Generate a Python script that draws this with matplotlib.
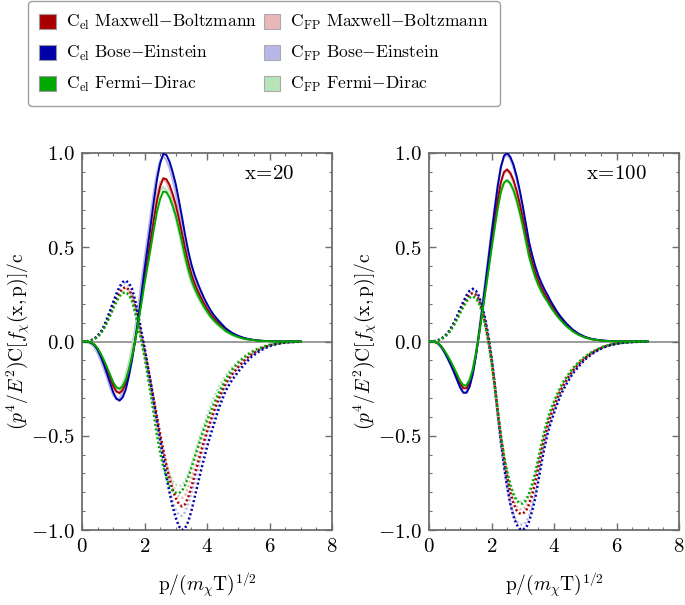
import numpy as np
import matplotlib
matplotlib.use('Agg')
import matplotlib.pyplot as plt
from matplotlib.patches import Patch
from matplotlib.ticker import MultipleLocator, FuncFormatter

plt.rcParams['mathtext.fontset'] = 'cm'
plt.rcParams['font.family'] = 'serif'
plt.rcParams['font.serif'] = ['DejaVu Serif']

p = [0.0, 0.1, 0.2, 0.3, 0.4, 0.5, 0.6, 0.7, 0.8, 0.9,
     1.0, 1.1, 1.2, 1.3, 1.4, 1.5, 1.6, 1.7, 1.8, 1.9,
     2.0, 2.1, 2.2, 2.3, 2.4, 2.5, 2.6, 2.7, 2.8, 2.9,
     3.0, 3.1, 3.2, 3.3, 3.4, 3.5, 3.6, 3.7, 3.8, 3.9,
     4.0, 4.1, 4.2, 4.3, 4.4,
     4.6, 4.8, 5.0, 5.2, 5.4, 5.6, 5.8, 6.0, 6.2, 6.4, 6.6, 6.8, 7.0]

# ---------------- x = 20 ----------------
# C_el, solid
el20_mb = [0, -0.0004, -0.002, -0.007, -0.017, -0.039, -0.07, -0.106, -0.148, -0.191,
           -0.235, -0.264, -0.274, -0.258, -0.222, -0.161, -0.087, 0.004, 0.104, 0.218,
           0.33, 0.435, 0.54, 0.648, 0.748, 0.822, 0.866, 0.861, 0.831, 0.783,
           0.726, 0.653, 0.574, 0.492, 0.418, 0.357, 0.309, 0.27, 0.235, 0.203,
           0.174, 0.148, 0.126, 0.108, 0.091,
           0.061, 0.04, 0.026, 0.016, 0.01, 0.005, 0.003, 0.002, 0.001, 0, 0, 0, 0]
el20_be = [0, -0.0005, -0.002, -0.008, -0.02, -0.045, -0.08, -0.122, -0.17, -0.22,
           -0.27, -0.303, -0.314, -0.297, -0.255, -0.185, -0.10, 0.005, 0.12, 0.25,
           0.38, 0.50, 0.62, 0.745, 0.86, 0.945, 0.995, 0.99, 0.955, 0.90,
           0.835, 0.75, 0.66, 0.565, 0.48, 0.41, 0.355, 0.31, 0.27, 0.233,
           0.20, 0.17, 0.145, 0.124, 0.105,
           0.07, 0.046, 0.03, 0.018, 0.011, 0.006, 0.003, 0.002, 0.001, 0, 0, 0, 0]
el20_fd = [0, -0.0004, -0.002, -0.006, -0.016, -0.036, -0.064, -0.098, -0.136, -0.176,
           -0.216, -0.242, -0.251, -0.238, -0.204, -0.148, -0.08, 0.004, 0.096, 0.20,
           0.304, 0.40, 0.496, 0.596, 0.688, 0.756, 0.796, 0.792, 0.764, 0.72,
           0.668, 0.60, 0.528, 0.452, 0.384, 0.328, 0.284, 0.248, 0.216, 0.186,
           0.16, 0.136, 0.116, 0.099, 0.084,
           0.056, 0.037, 0.024, 0.014, 0.009, 0.005, 0.002, 0.002, 0.001, 0, 0, 0, 0]
# C_el, dotted
el20_mb_d = [0, 0.0005, 0.002, 0.006, 0.014, 0.027, 0.046, 0.073, 0.108, 0.147,
             0.19, 0.228, 0.26, 0.282, 0.288, 0.275, 0.245, 0.188, 0.11, 0.03,
             -0.045, -0.13, -0.22, -0.31, -0.40, -0.49, -0.575, -0.655, -0.725, -0.785,
             -0.83, -0.862, -0.875, -0.863, -0.825, -0.773, -0.712, -0.65, -0.59, -0.533,
             -0.478, -0.428, -0.38, -0.335, -0.294,
             -0.222, -0.175, -0.135, -0.1, -0.072, -0.05, -0.033, -0.021, -0.013, -0.007, -0.003, -0.002, -0.001]
el20_be_d = [0, 0.0005, 0.002, 0.007, 0.015, 0.03, 0.05, 0.08, 0.12, 0.163,
             0.21, 0.253, 0.29, 0.315, 0.323, 0.31, 0.28, 0.22, 0.14, 0.055,
             -0.03, -0.125, -0.22, -0.32, -0.42, -0.52, -0.62, -0.715, -0.80, -0.875,
             -0.935, -0.98, -1.0, -0.99, -0.955, -0.9, -0.83, -0.76, -0.69, -0.625,
             -0.56, -0.503, -0.45, -0.395, -0.345,
             -0.26, -0.205, -0.16, -0.12, -0.085, -0.06, -0.04, -0.025, -0.015, -0.008, -0.004, -0.002, -0.001]
el20_fd_d = [0, 0.0005, 0.002, 0.006, 0.013, 0.025, 0.043, 0.068, 0.1, 0.136,
             0.175, 0.21, 0.24, 0.257, 0.262, 0.248, 0.215, 0.155, 0.08, 0.0,
             -0.08, -0.18, -0.28, -0.39, -0.50, -0.59, -0.665, -0.72, -0.762, -0.79,
             -0.803, -0.805, -0.792, -0.762, -0.72, -0.67, -0.617, -0.565, -0.513, -0.465,
             -0.42, -0.378, -0.338, -0.3, -0.265,
             -0.2, -0.15, -0.112, -0.082, -0.059, -0.041, -0.028, -0.018, -0.011, -0.006, -0.003, -0.001, 0]
# C_FP, solid
fp20_mb = [0, -0.001, -0.004, -0.012, -0.028, -0.054, -0.088, -0.127, -0.17, -0.213,
           -0.25, -0.27, -0.267, -0.24, -0.192, -0.124, -0.042, 0.054, 0.16, 0.274,
           0.382, 0.487, 0.594, 0.698, 0.785, 0.845, 0.862, 0.845, 0.806, 0.753,
           0.688, 0.612, 0.532, 0.454, 0.387, 0.332, 0.289, 0.252, 0.219, 0.188,
           0.161, 0.137, 0.117, 0.099, 0.084,
           0.055, 0.036, 0.023, 0.014, 0.008, 0.004, 0.002, 0.001, 0.001, 0, 0, 0, 0]
fp20_be = [0, -0.001, -0.005, -0.014, -0.032, -0.062, -0.1, -0.145, -0.193, -0.243,
           -0.285, -0.306, -0.303, -0.273, -0.218, -0.141, -0.047, 0.062, 0.183, 0.312,
           0.435, 0.554, 0.676, 0.793, 0.893, 0.96, 0.983, 0.962, 0.92, 0.86,
           0.785, 0.698, 0.606, 0.517, 0.44, 0.378, 0.33, 0.287, 0.249, 0.214,
           0.183, 0.156, 0.133, 0.113, 0.096,
           0.063, 0.041, 0.026, 0.016, 0.009, 0.005, 0.003, 0.001, 0.001, 0, 0, 0, 0]
fp20_fd = [0, -0.001, -0.004, -0.011, -0.026, -0.05, -0.082, -0.118, -0.158, -0.198,
           -0.233, -0.252, -0.249, -0.224, -0.18, -0.116, -0.038, 0.052, 0.152, 0.26,
           0.362, 0.462, 0.563, 0.662, 0.746, 0.803, 0.82, 0.803, 0.766, 0.715,
           0.653, 0.58, 0.503, 0.428, 0.364, 0.312, 0.272, 0.237, 0.206, 0.177,
           0.152, 0.129, 0.11, 0.093, 0.079,
           0.052, 0.034, 0.022, 0.013, 0.008, 0.004, 0.002, 0.001, 0.001, 0, 0, 0, 0]
# C_FP, dotted
fp20_mb_d = [0, 0.0005, 0.002, 0.006, 0.014, 0.027, 0.047, 0.074, 0.11, 0.148,
             0.19, 0.225, 0.255, 0.275, 0.28, 0.265, 0.235, 0.175, 0.10, 0.02,
             -0.06, -0.15, -0.24, -0.33, -0.42, -0.505, -0.58, -0.65, -0.71, -0.76,
             -0.80, -0.823, -0.83, -0.815, -0.77, -0.722, -0.67, -0.612, -0.555, -0.502,
             -0.45, -0.402, -0.355, -0.313, -0.275,
             -0.21, -0.16, -0.122, -0.09, -0.065, -0.046, -0.031, -0.02, -0.012, -0.007, -0.003, -0.002, -0.001]
fp20_be_d = [0, 0.0005, 0.002, 0.007, 0.016, 0.031, 0.052, 0.082, 0.122, 0.165,
             0.21, 0.25, 0.285, 0.305, 0.31, 0.295, 0.26, 0.197, 0.12, 0.035,
             -0.05, -0.15, -0.25, -0.35, -0.45, -0.545, -0.635, -0.72, -0.79, -0.85,
             -0.895, -0.92, -0.925, -0.905, -0.86, -0.81, -0.75, -0.685, -0.62, -0.56,
             -0.50, -0.45, -0.40, -0.355, -0.31,
             -0.235, -0.18, -0.14, -0.105, -0.075, -0.052, -0.035, -0.022, -0.013, -0.007, -0.004, -0.002, -0.001]
fp20_fd_d = [0, 0.0005, 0.002, 0.006, 0.013, 0.025, 0.044, 0.07, 0.102, 0.138,
             0.178, 0.212, 0.24, 0.255, 0.258, 0.243, 0.21, 0.148, 0.075, -0.005,
             -0.08, -0.175, -0.27, -0.365, -0.46, -0.535, -0.6, -0.655, -0.705, -0.74,
             -0.76, -0.766, -0.765, -0.74, -0.70, -0.655, -0.60, -0.545, -0.49, -0.44,
             -0.39, -0.347, -0.305, -0.268, -0.235,
             -0.18, -0.137, -0.103, -0.076, -0.055, -0.038, -0.026, -0.016, -0.01, -0.005, -0.003, -0.001, 0]

# ---------------- x = 100 ----------------
el100_mb = [0, -0.0005, -0.003, -0.011, -0.027, -0.053, -0.082, -0.114, -0.149, -0.187,
            -0.224, -0.248, -0.248, -0.219, -0.16, -0.073, 0.037, 0.155, 0.274, 0.397,
            0.52, 0.639, 0.753, 0.845, 0.899, 0.913, 0.895, 0.858, 0.803, 0.735,
            0.657, 0.571, 0.484, 0.42, 0.365, 0.32, 0.283, 0.251, 0.224, 0.194,
            0.169, 0.144, 0.123, 0.104, 0.087,
            0.058, 0.037, 0.022, 0.013, 0.007, 0.004, 0.002, 0.001, 0, 0, 0, 0, 0]
el100_be = [0, -0.0005, -0.003, -0.012, -0.03, -0.058, -0.09, -0.125, -0.163, -0.205,
            -0.245, -0.272, -0.272, -0.24, -0.175, -0.08, 0.04, 0.17, 0.30, 0.435,
            0.57, 0.70, 0.825, 0.925, 0.985, 1.0, 0.98, 0.94, 0.88, 0.805,
            0.72, 0.625, 0.53, 0.46, 0.40, 0.35, 0.31, 0.275, 0.245, 0.213,
            0.185, 0.158, 0.135, 0.114, 0.095,
            0.063, 0.04, 0.024, 0.014, 0.008, 0.004, 0.002, 0.001, 0, 0, 0, 0, 0]
el100_fd = [0, -0.0004, -0.003, -0.01, -0.026, -0.05, -0.077, -0.107, -0.14, -0.175,
            -0.21, -0.233, -0.233, -0.205, -0.15, -0.068, 0.034, 0.146, 0.257, 0.372,
            0.488, 0.599, 0.706, 0.792, 0.843, 0.856, 0.839, 0.805, 0.753, 0.689,
            0.616, 0.535, 0.454, 0.394, 0.342, 0.3, 0.265, 0.235, 0.21, 0.182,
            0.158, 0.135, 0.116, 0.098, 0.081,
            0.054, 0.034, 0.021, 0.012, 0.007, 0.003, 0.002, 0.001, 0, 0, 0, 0, 0]
el100_mb_d = [0, 0.0005, 0.002, 0.006, 0.014, 0.026, 0.042, 0.065, 0.093, 0.126,
              0.162, 0.196, 0.227, 0.25, 0.258, 0.248, 0.22, 0.17, 0.10, 0.01,
              -0.095, -0.225, -0.37, -0.505, -0.62, -0.72, -0.80, -0.857, -0.895, -0.912,
              -0.913, -0.9, -0.865, -0.815, -0.747, -0.668, -0.585, -0.508, -0.443, -0.39,
              -0.345, -0.303, -0.265, -0.233, -0.205,
              -0.155, -0.118, -0.087, -0.062, -0.043, -0.028, -0.018, -0.011, -0.006, -0.003, -0.002, -0.001, 0]
el100_be_d = [0, 0.0005, 0.002, 0.007, 0.015, 0.028, 0.045, 0.07, 0.10, 0.135,
              0.175, 0.212, 0.245, 0.27, 0.28, 0.27, 0.24, 0.19, 0.12, 0.03,
              -0.08, -0.22, -0.38, -0.53, -0.66, -0.77, -0.86, -0.925, -0.97, -0.993,
              -1.0, -0.99, -0.955, -0.9, -0.83, -0.74, -0.645, -0.56, -0.485, -0.43,
              -0.38, -0.333, -0.29, -0.255, -0.225,
              -0.17, -0.13, -0.095, -0.068, -0.047, -0.031, -0.02, -0.012, -0.007, -0.004, -0.002, -0.001, 0]
el100_fd_d = [0, 0.0005, 0.002, 0.006, 0.013, 0.025, 0.04, 0.061, 0.088, 0.119,
              0.153, 0.185, 0.213, 0.233, 0.24, 0.23, 0.205, 0.155, 0.085, 0.0,
              -0.105, -0.235, -0.37, -0.497, -0.605, -0.69, -0.76, -0.81, -0.843, -0.858,
              -0.86, -0.845, -0.81, -0.76, -0.698, -0.623, -0.545, -0.473, -0.413, -0.363,
              -0.32, -0.282, -0.245, -0.215, -0.19,
              -0.143, -0.108, -0.08, -0.057, -0.04, -0.026, -0.017, -0.01, -0.006, -0.003, -0.001, 0, 0]
fp100_mb = [0, -0.0005, -0.003, -0.012, -0.028, -0.054, -0.084, -0.116, -0.151, -0.189,
            -0.225, -0.247, -0.245, -0.212, -0.15, -0.06, 0.052, 0.168, 0.289, 0.41,
            0.533, 0.65, 0.758, 0.845, 0.893, 0.905, 0.885, 0.846, 0.79, 0.72,
            0.642, 0.557, 0.473, 0.41, 0.357, 0.313, 0.277, 0.246, 0.219, 0.19,
            0.165, 0.141, 0.12, 0.101, 0.085,
            0.056, 0.036, 0.021, 0.012, 0.007, 0.004, 0.002, 0.001, 0, 0, 0, 0, 0]
fp100_be = [0, -0.0005, -0.003, -0.013, -0.036, -0.061, -0.092, -0.127, -0.165, -0.206,
            -0.245, -0.27, -0.268, -0.232, -0.163, -0.065, 0.057, 0.187, 0.318, 0.45,
            0.583, 0.71, 0.83, 0.925, 0.978, 0.99, 0.968, 0.925, 0.865, 0.79,
            0.704, 0.61, 0.518, 0.45, 0.392, 0.343, 0.303, 0.269, 0.239, 0.208,
            0.18, 0.154, 0.131, 0.111, 0.092,
            0.061, 0.039, 0.023, 0.013, 0.007, 0.004, 0.002, 0.001, 0, 0, 0, 0, 0]
fp100_fd = [0, -0.0004, -0.003, -0.011, -0.027, -0.051, -0.078, -0.109, -0.142, -0.177,
            -0.211, -0.232, -0.23, -0.198, -0.14, -0.055, 0.049, 0.159, 0.27, 0.385,
            0.5, 0.61, 0.714, 0.796, 0.842, 0.852, 0.833, 0.797, 0.744, 0.679,
            0.606, 0.526, 0.447, 0.388, 0.337, 0.296, 0.261, 0.232, 0.207, 0.179,
            0.155, 0.133, 0.114, 0.096, 0.08,
            0.053, 0.033, 0.02, 0.012, 0.007, 0.003, 0.002, 0.001, 0, 0, 0, 0, 0]
fp100_mb_d = [0, 0.0005, 0.002, 0.006, 0.014, 0.026, 0.042, 0.065, 0.092, 0.125,
              0.16, 0.194, 0.225, 0.247, 0.255, 0.244, 0.215, 0.163, 0.095, 0.0,
              -0.105, -0.24, -0.375, -0.505, -0.615, -0.71, -0.785, -0.84, -0.875, -0.889,
              -0.89, -0.877, -0.845, -0.795, -0.725, -0.645, -0.565, -0.49, -0.43, -0.378,
              -0.333, -0.292, -0.255, -0.224, -0.197,
              -0.15, -0.113, -0.083, -0.06, -0.041, -0.027, -0.017, -0.01, -0.006, -0.003, -0.001, 0, 0]
fp100_be_d = [0, 0.0005, 0.002, 0.007, 0.015, 0.028, 0.045, 0.07, 0.1, 0.134,
              0.173, 0.21, 0.242, 0.266, 0.275, 0.263, 0.235, 0.18, 0.105, 0.01,
              -0.095, -0.24, -0.40, -0.545, -0.67, -0.77, -0.855, -0.915, -0.955, -0.97,
              -0.972, -0.96, -0.925, -0.868, -0.79, -0.705, -0.615, -0.535, -0.468, -0.413,
              -0.362, -0.318, -0.277, -0.244, -0.214,
              -0.162, -0.123, -0.09, -0.065, -0.045, -0.03, -0.019, -0.011, -0.007, -0.004, -0.002, -0.001, 0]
fp100_fd_d = [0, 0.0005, 0.002, 0.006, 0.013, 0.025, 0.04, 0.061, 0.087, 0.118,
              0.152, 0.183, 0.212, 0.231, 0.238, 0.226, 0.2, 0.15, 0.08, -0.01,
              -0.115, -0.245, -0.375, -0.5, -0.6, -0.685, -0.75, -0.8, -0.832, -0.848,
              -0.85, -0.835, -0.8, -0.748, -0.685, -0.61, -0.532, -0.462, -0.402, -0.352,
              -0.31, -0.272, -0.24, -0.21, -0.185,
              -0.14, -0.106, -0.078, -0.056, -0.039, -0.025, -0.016, -0.01, -0.006, -0.003, -0.001, 0, 0]

names = ['Maxwell{-}Boltzmann', 'Bose{-}Einstein', 'Fermi{-}Dirac']
dark = ['#a80000', '#0000a8', '#00a800']
light = ['#e8b8b8', '#b8b8e8', '#b8e4b8']

panels = [
    ('x\\!=\\!20', [el20_mb, el20_be, el20_fd], [el20_mb_d, el20_be_d, el20_fd_d],
     [fp20_mb, fp20_be, fp20_fd], [fp20_mb_d, fp20_be_d, fp20_fd_d]),
    ('x\\!=\\!100', [el100_mb, el100_be, el100_fd], [el100_mb_d, el100_be_d, el100_fd_d],
     [fp100_mb, fp100_be, fp100_fd], [fp100_mb_d, fp100_be_d, fp100_fd_d]),
]

fig = plt.figure(figsize=(6.85, 6.05), dpi=100)
frame_col = '#6e6e6e'
lefts = [82 / 685, 429 / 685]
dots = (0, (0.8, 1.0))

for i, (tag, el, el_d, fp, fp_d) in enumerate(panels):
    ax = fig.add_axes([lefts[i], 75 / 605, 250 / 685, 377 / 605])
    ax.axhline(0, color='#808080', lw=1.1, zorder=1)
    for k in range(3):
        ax.plot(p, fp[k], color=light[k], lw=1.6, zorder=2)
        ax.plot(p, fp_d[k], color=light[k], lw=1.8, ls=dots, zorder=2)
    for k in range(3):
        ax.plot(p, el[k], color=dark[k], lw=1.4, zorder=3)
        ax.plot(p, el_d[k], color=dark[k], lw=1.8, ls=dots, zorder=3)

    ax.set_xlim(0, 8)
    ax.set_ylim(-1, 1)
    ax.xaxis.set_major_locator(MultipleLocator(2))
    ax.xaxis.set_minor_locator(MultipleLocator(0.5))
    ax.yaxis.set_major_locator(MultipleLocator(0.5))
    ax.yaxis.set_minor_locator(MultipleLocator(0.1))
    ax.xaxis.set_major_formatter(FuncFormatter(lambda v, pos: r'$%d$' % round(v)))
    ax.yaxis.set_major_formatter(FuncFormatter(lambda v, pos: r'$%.1f$' % v))
    ax.tick_params(which='both', direction='in', top=True, right=True, color=frame_col, labelsize=15)
    ax.tick_params(which='major', length=5, width=1.0, pad=5)
    ax.tick_params(which='minor', length=2.5, width=0.8)
    for s in ax.spines.values():
        s.set_color(frame_col)
        s.set_linewidth(1.3)

    ax.text(6.0, 0.89, r'$\mathrm{%s}$' % tag, fontsize=15, ha='center', va='center')
    ax.set_xlabel(r'$\mathrm{p}/(m_\chi\mathrm{T})^{1/2}$', fontsize=14, labelpad=11)
    ax.set_ylabel(r'$(p^4/E^2)\mathrm{C}[f_\chi(\mathrm{x,p})]/\mathrm{c}$', fontsize=14, va='center')
    ax.yaxis.set_label_coords(-0.255, 0.5)

handles = []
labels = []
for k in range(3):
    handles.append(Patch(facecolor=dark[k], edgecolor='#999999', lw=0.8))
    labels.append(r'$\mathrm{C_{el}\ %s}$' % names[k])
for k in range(3):
    handles.append(Patch(facecolor=light[k], edgecolor='#aaaaaa', lw=0.8))
    labels.append(r'$\mathrm{C_{FP}\ %s}$' % names[k])

leg = fig.legend(handles, labels, ncol=2, loc='upper left', bbox_to_anchor=(28 / 685, 1 - 1 / 605),
                 borderaxespad=0, fontsize=12.6, handlelength=0.95, handleheight=0.95, handletextpad=0.55,
                 columnspacing=0.4, labelspacing=0.68, borderpad=0.65, fancybox=True, frameon=True)
leg.get_frame().set_edgecolor('#888888')
leg.get_frame().set_linewidth(1.0)

fig.savefig('out.png', dpi=100)
